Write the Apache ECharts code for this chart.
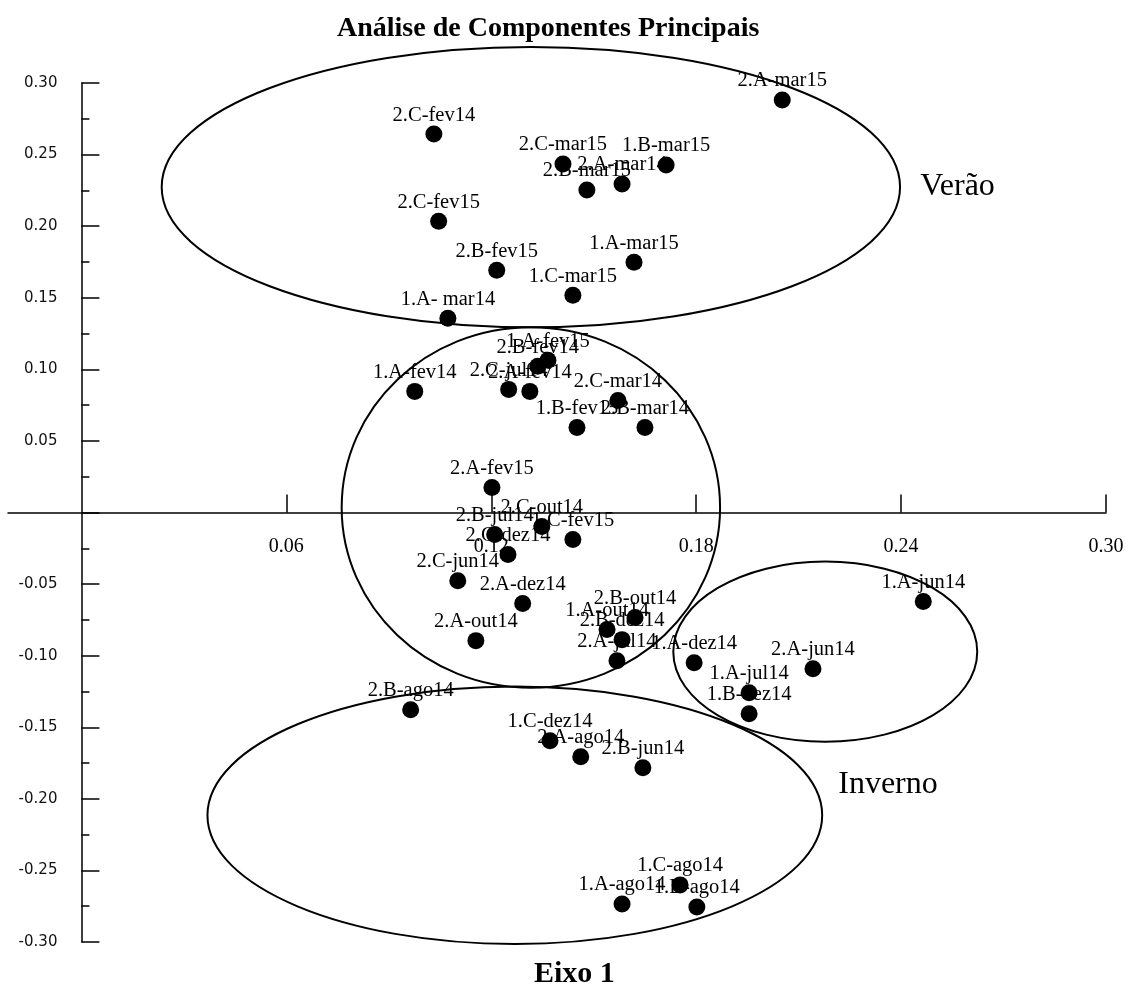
<!DOCTYPE html>
<html>
<head>
<meta charset="utf-8">
<script src="https://cdn.jsdelivr.net/npm/echarts@6/dist/echarts.min.js"></script>
<style>
  html, body { margin: 0; padding: 0; background: #fff; }
  #chart { width: 1126px; height: 987px; }
</style>
</head>
<body>
<div id="chart"></div>
<script>
// PCA scores: sample label, axis 1 and axis 2 coordinates
const sampleNames = [
  '2.A-mar15', '2.C-fev14', '2.C-mar15', '1.B-mar15', '2.A-mar14', '2.B-mar15',
  '2.C-fev15', '1.A-mar15', '2.B-fev15', '1.C-mar15', '1.A- mar14',
  '1.A-fev15', '2.B-fev14', '1.A-fev14', '2.C-jul14', '2.A-fev14', '2.C-mar14',
  '1.B-fev15', '2.B-mar14', '2.A-fev15', '2.C-out14', '2.B-jul14', '1.C-fev15',
  '2.C-dez14', '2.C-jun14', '2.A-dez14', '2.A-out14', '2.B-out14', '1.A-out14',
  '2.B-dez14', '2.A-jul14', '1.A-dez14', '1.A-jun14', '2.A-jun14', '1.A-jul14',
  '1.B-dez14', '2.B-ago14', '1.C-dez14', '2.A-ago14', '2.B-jun14', '1.A-ago14',
  '1.C-ago14', '1.B-ago14'
];
const eixo1 = [
  0.2052, 0.1032, 0.1410, 0.1712, 0.1583, 0.1480,
  0.1046, 0.1618, 0.1216, 0.1439, 0.1073,
  0.1366, 0.1336, 0.0976, 0.1251, 0.1313, 0.1571,
  0.1451, 0.1650, 0.1202, 0.1348, 0.1210, 0.1439,
  0.1249, 0.1102, 0.1292, 0.1155, 0.1621, 0.1539,
  0.1583, 0.1568, 0.1794, 0.2465, 0.2142, 0.1955,
  0.1955, 0.0964, 0.1372, 0.1462, 0.1644, 0.1583,
  0.1753, 0.1802
];
const eixo2 = [
  0.2881, 0.2643, 0.2434, 0.2427, 0.2294, 0.2252,
  0.2035, 0.1748, 0.1692, 0.1517, 0.1357,
  0.1063, 0.1021, 0.0846, 0.0860, 0.0846, 0.0783,
  0.0594, 0.0594, 0.0175, -0.0098, -0.0154, -0.0189,
  -0.0294, -0.0476, -0.0636, -0.0895, -0.0734, -0.0818,
  -0.0888, -0.1035, -0.1049, -0.0622, -0.1091, -0.1259,
  -0.1406, -0.1378, -0.1594, -0.1706, -0.1783, -0.2734,
  -0.2601, -0.2755
];

// Horizontal axis tick values
const xTickValues = [0.06, 0.12, 0.18, 0.24, 0.30];

// Grouping ellipses (centre and semi-axes, in axis units)
const groupCx = [0.1316, 0.1316, 0.2178, 0.1269];
const groupCy = [0.2273, 0.0035, -0.0972, -0.2115];
const groupRx = [0.1081, 0.0554, 0.0445, 0.0900];
const groupRy = [0.0979, 0.1259, 0.0629, 0.0899];

// Season annotations (left edge / vertical centre, in axis units)
const seasonNames = ['Verão', 'Inverno'];
const seasonX = [0.2456, 0.2216];
const seasonY = [0.2273, -0.1902];

const serif = '"Times New Roman", "Liberation Serif", serif';

// Plot area and axis ranges
const W = 1126, H = 987;
const gridBox = { left: 8, right: 20, top: 83, bottom: 45 };
const xMin = -0.0215, xMax = 0.30;
const yMin = -0.30, yMax = 0.30;
const gridW = W - gridBox.left - gridBox.right;
const gridH = H - gridBox.top - gridBox.bottom;
// Both axes cross at the origin: shift each one inward from the grid edge
const xAxisShift = -gridH * (0 - yMin) / (yMax - yMin);
const yAxisShift = -gridW * (0 - xMin) / (xMax - xMin);

const points = sampleNames.map((n, i) => ({ name: n, value: [eixo1[i], eixo2[i]] }));
const groups = groupCx.map((cx, i) => [cx, groupCy[i], groupRx[i], groupRy[i]]);
const seasons = seasonNames.map((n, i) => ({ name: n, value: [seasonX[i], seasonY[i]] }));

const chart = echarts.init(document.getElementById('chart'), null, { renderer: 'canvas' });

chart.setOption({
  animation: false,
  backgroundColor: '#fff',
  title: [
    {
      text: 'Análise de Componentes Principais',
      left: 332,
      top: 10,
      textStyle: { fontFamily: serif, fontWeight: 'bold', fontSize: 28, color: '#000' }
    },
    {
      text: 'Eixo 1',
      left: 529,
      top: 954,
      textStyle: { fontFamily: serif, fontWeight: 'bold', fontSize: 30, color: '#000' }
    }
  ],
  grid: Object.assign({ containLabel: false, outerBoundsMode: 'none' }, gridBox),
  xAxis: {
    type: 'value',
    min: xMin,
    max: xMax,
    position: 'bottom',
    offset: xAxisShift,
    axisLine: { onZero: false, lineStyle: { color: '#000', width: 1.5 } },
    axisTick: { show: true, inside: true, length: 18, customValues: xTickValues,
                lineStyle: { color: '#000', width: 1.5 } },
    axisLabel: {
      customValues: xTickValues,
      margin: 24,
      formatter: v => v.toFixed(2),
      fontFamily: serif, fontSize: 20, color: '#000'
    },
    splitLine: { show: false }
  },
  yAxis: {
    type: 'value',
    min: yMin,
    max: yMax,
    interval: 0.05,
    position: 'left',
    offset: yAxisShift,
    axisLine: { onZero: false, lineStyle: { color: '#000', width: 1.5 } },
    axisTick: { show: true, inside: true, length: 18, lineStyle: { color: '#000', width: 1.5 } },
    minorTick: { show: true, splitNumber: 2, length: 8, lineStyle: { color: '#000', width: 1.5 } },
    axisLabel: {
      margin: 24,
      formatter: v => (Math.abs(v) < 1e-9 ? '' : v.toFixed(2)),
      fontFamily: '"DejaVu Sans", Verdana, sans-serif', fontSize: 15, color: '#111'
    },
    splitLine: { show: false }
  },
  series: [
    {
      type: 'custom',
      clip: false,
      silent: true,
      z: 1,
      data: groups,
      renderItem: (params, api) => {
        const c = api.coord([api.value(0), api.value(1)]);
        const s = api.size([api.value(2), api.value(3)]);
        return {
          type: 'ellipse',
          shape: { cx: c[0], cy: c[1], rx: s[0], ry: s[1] },
          style: { fill: 'none', stroke: '#000', lineWidth: 2 }
        };
      }
    },
    {
      type: 'scatter',
      symbolSize: 17,
      z: 3,
      itemStyle: { color: '#000', opacity: 1 },
      data: points,
      label: {
        show: true,
        position: 'top',
        distance: 0,
        formatter: p => p.name,
        fontFamily: serif,
        fontSize: 20.5,
        color: '#000'
      },
      labelLayout: { hideOverlap: false }
    },
    {
      type: 'scatter',
      symbolSize: 0,
      silent: true,
      itemStyle: { color: '#000', opacity: 1 },
      data: seasons,
      label: {
        show: true,
        position: 'inside',
        align: 'left',
        verticalAlign: 'middle',
        formatter: p => p.name,
        fontFamily: serif,
        fontSize: 32,
        color: '#000'
      }
    }
  ]
});
</script>
</body>
</html>
